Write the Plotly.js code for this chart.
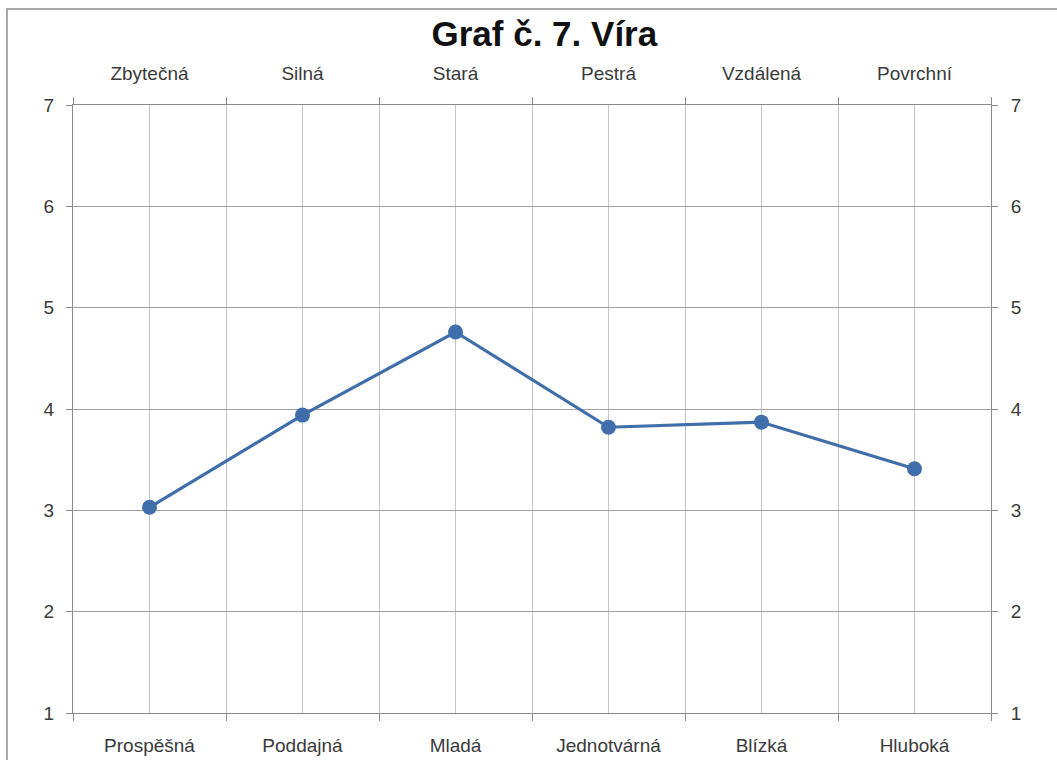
<!DOCTYPE html>
<html>
<head>
<meta charset="utf-8">
<script src="https://cdn.plot.ly/plotly-3.0.1.min.js"></script>
<style>html,body{margin:0;padding:0;background:#fff;}#chart{width:1057px;height:760px;}</style>
</head>
<body>
<div id="chart"></div>
<script>
const titleText = "Graf č. 7. Víra";
const bottomLabels = ["Prospěšná", "Poddajná", "Mladá", "Jednotvárná", "Blízká", "Hluboká"];
const topLabels = ["Zbytečná", "Silná", "Stará", "Pestrá", "Vzdálená", "Povrchní"];
const values = [3.03, 3.94, 4.76, 3.82, 3.87, 3.41];
const yTicks = [1, 2, 3, 4, 5, 6, 7];

const idx = bottomLabels.map((_, i) => i);
const font = {family: "Arial, 'Liberation Sans', sans-serif", size: 19, color: "#3a3a3a"};
const lineBlue = "#3f6eab";

const traces = [
  {
    x: idx, y: values, type: "scatter", mode: "lines+markers",
    line: {color: lineBlue, width: 3.2},
    marker: {color: lineBlue, size: 15},
    xaxis: "x", yaxis: "y", showlegend: false, hoverinfo: "y"
  },
  {
    x: idx, y: values, type: "scatter", mode: "lines",
    line: {width: 0}, opacity: 0,
    xaxis: "x2", yaxis: "y2", showlegend: false, hoverinfo: "skip"
  }
];

const xCommon = {
  range: [-0.5, idx.length - 0.5],
  tickmode: "array", tickvals: idx,
  ticks: "", showgrid: true, gridcolor: "#c4c4c4", gridwidth: 1,
  showline: true, linecolor: "#8a8a8a", linewidth: 1,
  zeroline: false, tickfont: font,
  minor: {tickmode: "linear", tick0: -0.5, dtick: 1, ticks: "outside", ticklen: 7,
          tickcolor: "#8a8a8a", showgrid: true, gridcolor: "#c4c4c4", gridwidth: 1},
  fixedrange: true
};
const yCommon = {
  range: [1, 7], tickmode: "array", tickvals: yTicks,
  ticks: "outside", ticklen: 6, tickcolor: "#8a8a8a",
  showline: true, linecolor: "#8a8a8a", linewidth: 1,
  zeroline: false, tickfont: font, fixedrange: true
};

const layout = {
  width: 1057, height: 760,
  margin: {l: 73, r: 66, t: 105, b: 47, pad: 0},
  paper_bgcolor: "#ffffff", plot_bgcolor: "#ffffff",
  title: {text: "<b>" + titleText + "</b>", font: {family: "Arial, 'Liberation Sans', sans-serif", size: 35, color: "#111"},
          x: 0.515, xanchor: "center", y: 0.955, yanchor: "middle"},
  xaxis: Object.assign({}, xCommon, {ticktext: bottomLabels, side: "bottom", anchor: "y", ticklabelstandoff: 15}),
  xaxis2: Object.assign({}, xCommon, {ticktext: topLabels, side: "top", overlaying: "x", anchor: "y", showgrid: false,
          minor: Object.assign({}, xCommon.minor, {showgrid: false}), ticklabelstandoff: 16}),
  yaxis: Object.assign({}, yCommon, {side: "left", showgrid: true, gridcolor: "#a0a0a0", gridwidth: 1, ticklabelstandoff: 8}),
  yaxis2: Object.assign({}, yCommon, {side: "right", overlaying: "y", anchor: "x", showgrid: false, ticklabelstandoff: 9}),
  shapes: [{
    type: "rect", xref: "paper", yref: "paper",
    x0: -0.0719, x1: 1.08, y0: -0.09, y1: 1.158,
    line: {color: "#8c8c8c", width: 1.5}, fillcolor: "rgba(0,0,0,0)", layer: "below"
  }],
  showlegend: false
};

Plotly.newPlot("chart", traces, layout, {displayModeBar: false, staticPlot: true});
</script>
</body>
</html>
